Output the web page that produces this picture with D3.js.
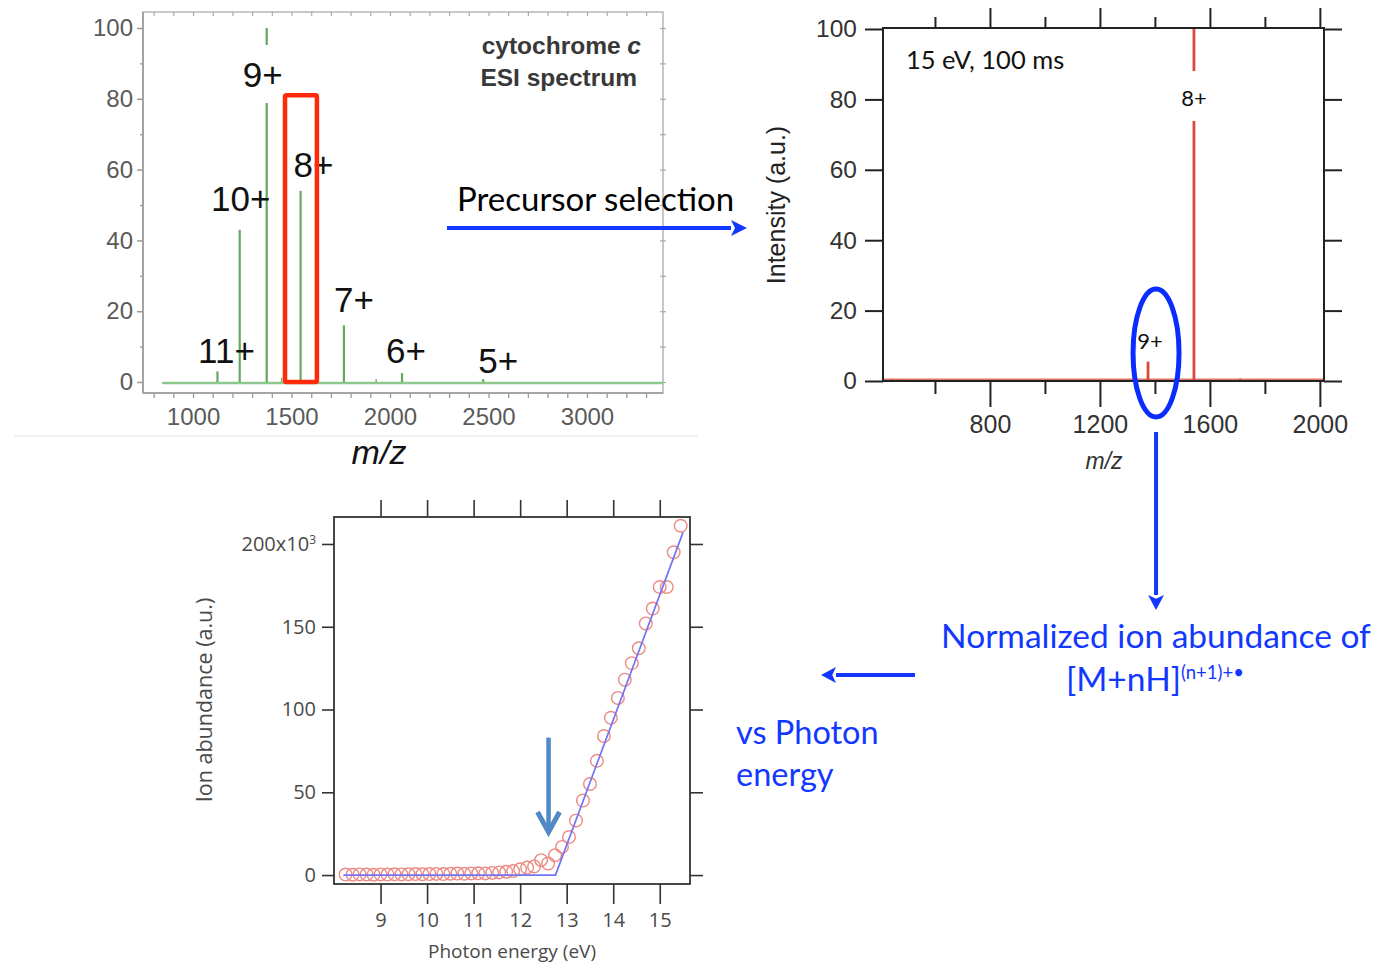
<!DOCTYPE html>
<html>
<head>
<meta charset="utf-8">
<script src="https://cdn.jsdelivr.net/npm/d3@7"></script>
<style>
  body { margin: 0; background: #fff; }
  svg { display: block; }
</style>
</head>
<body>
<svg id="fig" width="1382" height="972"></svg>
<script>
// ---- ESI survey spectrum of cytochrome c ----
const esiCharges   = ["11+", "10+", "9+", "8+", "7+", "6+", "5+"];
const esiMz        = [1124, 1237, 1374, 1546, 1766, 2061, 2473];
const esiIntensity = [3, 43, 100, 54, 16, 2.5, 0.8];
const esiMinorMz   = [1450, 1930];
const esiMinorInt  = [1.2, 0.8];
const esiXTicks    = [1000, 1500, 2000, 2500, 3000];
const esiYTicks    = [0, 20, 40, 60, 80, 100];
const isolationMz  = [1467, 1629];
const isolationTop = 81;

// ---- Tandem spectrum after 15 eV, 100 ms irradiation ----
const msmsCharges   = ["9+", "8+"];
const msmsMz        = [1375, 1542];
const msmsIntensity = [5.5, 100];
const msmsMinorMz   = [445, 470, 1218, 1710, 1770];
const msmsMinorInt  = [0.6, 0.5, 0.5, 0.8, 0.4];
const msmsXTicks    = [800, 1200, 1600, 2000];
const msmsXMinor    = [600, 1000, 1400, 1800];
const msmsYTicks    = [0, 20, 40, 60, 80, 100];

// ---- Photon energy scan of the oxidised species ----
const photonEnergy = [8.25, 8.4, 8.55, 8.7, 8.85, 9.0, 9.15, 9.3, 9.45, 9.6, 9.75, 9.9,
  10.05, 10.2, 10.35, 10.5, 10.65, 10.8, 10.95, 11.1, 11.25, 11.4,
  11.55, 11.7, 11.85, 12.0, 12.15, 12.3, 12.45, 12.6, 12.75, 12.9, 13.05, 13.2, 13.35,
  13.5, 13.65, 13.8, 13.95, 14.1, 14.25, 14.4, 14.55, 14.7, 14.85, 15.0, 15.15, 15.3, 15.45];
const ionAbundance = [0.3, 0.2, 0.4, 0.3, 0.2, 0.4, 0.3, 0.5, 0.4, 0.5, 0.6, 0.5,
  0.6, 0.7, 0.6, 0.8, 0.9, 0.8, 1.0, 1.1, 1.0, 1.3,
  1.6, 2.0, 2.4, 3.5, 4.5, 5.2, 9, 7, 12, 17, 23, 33, 45,
  55, 69, 84, 95, 107, 118, 128, 137, 152, 161, 174, 174, 195, 211];
const fitEnergy    = [8.2, 12.76, 15.5];
const fitAbundance = [0, 0, 207];
const energyTicks  = [9, 10, 11, 12, 13, 14, 15];
const abundanceTicks = [0, 50, 100, 150, 200];
const onsetEnergy  = 12.61;
const onsetArrowFrom = 83, onsetArrowTo = 26;

const svg = d3.select("#fig");
const BLUE = "#1238ff";

function styleAxis(g, font, size, color, tickColor, tickWidth) {
  g.select(".domain").remove();
  g.selectAll(".tick line").attr("stroke", tickColor).attr("stroke-width", tickWidth);
  g.selectAll(".tick text").attr("font-family", font).attr("font-size", size).attr("fill", color);
}

function arrow(g, x1, y1, x2, y2, color, width, headLen, headHalf) {
  const ang = Math.atan2(y2 - y1, x2 - x1);
  const bx = x2 - headLen * Math.cos(ang), by = y2 - headLen * Math.sin(ang);
  g.append("line").attr("x1", x1).attr("y1", y1).attr("x2", bx).attr("y2", by)
    .attr("stroke", color).attr("stroke-width", width);
  const px = -Math.sin(ang) * headHalf, py = Math.cos(ang) * headHalf;
  g.append("path")
    .attr("d", `M${x2},${y2}L${bx + px},${by + py}L${bx + 0.25 * (x2 - bx)},${by + 0.25 * (y2 - by)}L${bx - px},${by - py}Z`)
    .attr("fill", color);
}

// ================= Panel A: ESI spectrum =================
{
  const L = 143, R = 663, T = 12, B = 393;
  const x = d3.scaleLinear().domain([746, 3386]).range([L, R]);
  const y = d3.scaleLinear().domain([0, 100]).range([382, 28]);
  const g = svg.append("g");
  const axisGray = "#9a9a9a";
  const font = "'Liberation Sans', Arial, sans-serif";

  g.append("rect").attr("x", L).attr("y", T).attr("width", R - L).attr("height", B - T)
    .attr("fill", "none").attr("stroke", "#b5b5b5").attr("stroke-width", 1.5);
  g.append("line").attr("x1", L).attr("x2", L).attr("y1", T).attr("y2", B)
    .attr("stroke", axisGray).attr("stroke-width", 1.6);
  g.append("line").attr("x1", L).attr("x2", R).attr("y1", B).attr("y2", B)
    .attr("stroke", axisGray).attr("stroke-width", 1.6);

  const minorY = y.ticks(10).filter(v => !esiYTicks.includes(v));
  g.append("g").attr("transform", `translate(${L},0)`)
    .call(d3.axisLeft(y).tickValues(minorY).tickSize(3).tickFormat(""))
    .call(s => styleAxis(s, font, 24, "#555", axisGray, 1.3));
  g.append("g").attr("transform", `translate(${L},0)`)
    .call(d3.axisLeft(y).tickValues(esiYTicks).tickSize(6).tickPadding(4))
    .call(s => styleAxis(s, font, 24, "#5a5a5a", axisGray, 1.5));
  g.append("g").attr("transform", `translate(${R + 3},0)`)
    .call(d3.axisLeft(y).tickValues(y.ticks(10)).tickSize(6).tickFormat(""))
    .call(s => styleAxis(s, font, 24, "#555", "#aaa", 1.2));

  const mzMinor = x.ticks(26).filter(v => v >= 800);
  g.append("g").attr("transform", `translate(0,${B})`)
    .call(d3.axisBottom(x).tickValues(mzMinor).tickSize(5).tickPadding(10)
      .tickFormat(v => esiXTicks.includes(v) ? v : ""))
    .call(s => styleAxis(s, font, 24, "#5a5a5a", axisGray, 1.3));
  g.append("g").attr("transform", `translate(0,${T})`)
    .call(d3.axisBottom(x).tickValues(mzMinor).tickSize(4).tickFormat(""))
    .call(s => styleAxis(s, font, 24, "#555", "#aaa", 1.2));

  // baseline and peaks
  g.append("line").attr("x1", x(843)).attr("x2", R).attr("y1", y(0) + 1).attr("y2", y(0) + 1)
    .attr("stroke", "#8cc78c").attr("stroke-width", 2.6);
  g.selectAll(".minor").data(esiMinorMz).join("line")
    .attr("x1", d => x(d)).attr("x2", d => x(d))
    .attr("y1", y(0)).attr("y2", (d, i) => y(esiMinorInt[i]))
    .attr("stroke", "#7ab87a").attr("stroke-width", 1.6);
  g.selectAll(".peak").data(esiMz).join("line")
    .attr("x1", d => x(d)).attr("x2", d => x(d))
    .attr("y1", y(0)).attr("y2", (d, i) => y(esiIntensity[i]))
    .attr("stroke", "#63a863").attr("stroke-width", 2.2);

  // charge-state labels (offsets relative to peak apex)
  const labelOffset = [[9, -21], [1, -31], [-4, 0], [13, -26], [10, -26], [4, -23], [15, -19]];
  esiCharges.forEach((c, i) => {
    const cx = x(esiMz[i]) + labelOffset[i][0];
    const cy = c === "9+" ? y(87) : y(esiIntensity[i]) + labelOffset[i][1];
    if (c === "9+") {
      g.append("rect").attr("x", cx - 14).attr("y", cy - 29).attr("width", 28).attr("height", 58).attr("fill", "#fff");
    }
    g.append("text").attr("x", cx).attr("y", cy).attr("dy", "0.36em")
      .attr("text-anchor", "middle").attr("font-family", font).attr("font-size", 35)
      .attr("fill", "#111").text(c);
  });

  // isolation window
  g.append("rect")
    .attr("x", x(isolationMz[0])).attr("y", y(isolationTop))
    .attr("width", x(isolationMz[1]) - x(isolationMz[0])).attr("height", y(0) - y(isolationTop))
    .attr("fill", "none").attr("stroke", "#ff2a0a").attr("stroke-width", 4.5).attr("rx", 1.5);

  const title = g.append("text").attr("text-anchor", "end").attr("font-family", font)
    .attr("font-weight", "bold").attr("font-size", 24.5).attr("fill", "#383838");
  title.append("tspan").attr("x", 641).attr("y", 54).text("cytochrome ")
    .append("tspan").attr("font-style", "italic").text("c");
  title.append("tspan").attr("x", 637).attr("y", 86).text("ESI spectrum");

  g.append("text").attr("x", 379).attr("y", 464).attr("text-anchor", "middle")
    .attr("font-family", font).attr("font-style", "italic").attr("font-size", 34)
    .attr("fill", "#111").text("m/z");
  svg.append("line").attr("x1", 14).attr("x2", 698).attr("y1", 436).attr("y2", 436)
    .attr("stroke", "#e2e2e2").attr("stroke-width", 1);
}

// ================= Panel B: tandem spectrum =================
{
  const L = 883, R = 1324, T = 28, B = 381;
  const x = d3.scaleLinear().domain([411, 2015]).range([L, R]);
  const y = d3.scaleLinear().domain([0, 100]).range([381, 29]);
  const g = svg.append("g");
  const font = "'Liberation Sans', Arial, sans-serif";
  const ink = "#222";

  g.append("g").attr("transform", `translate(${L},0)`)
    .call(d3.axisLeft(y).tickValues(msmsYTicks).tickSize(18).tickPadding(8))
    .call(s => styleAxis(s, font, 24.5, "#333", ink, 2));
  g.append("g").attr("transform", `translate(${R},0)`)
    .call(d3.axisRight(y).tickValues(msmsYTicks).tickSize(18).tickFormat(""))
    .call(s => styleAxis(s, font, 24.5, "#333", ink, 2));
  g.append("g").attr("transform", `translate(0,${B})`)
    .call(d3.axisBottom(x).tickValues(msmsXTicks).tickSize(26).tickPadding(8).tickFormat(d3.format("d")))
    .call(s => styleAxis(s, font, 25, "#333", ink, 2));
  g.append("g").attr("transform", `translate(0,${B})`)
    .call(d3.axisBottom(x).tickValues(msmsXMinor).tickSize(13).tickFormat(""))
    .call(s => styleAxis(s, font, 25, "#333", ink, 2));
  g.append("g").attr("transform", `translate(0,${T})`)
    .call(d3.axisTop(x).tickValues(msmsXTicks).tickSize(20).tickFormat(""))
    .call(s => styleAxis(s, font, 25, "#333", ink, 2));
  g.append("g").attr("transform", `translate(0,${T})`)
    .call(d3.axisTop(x).tickValues(msmsXMinor).tickSize(11).tickFormat(""))
    .call(s => styleAxis(s, font, 25, "#333", ink, 2));

  // baseline and peaks
  g.append("line").attr("x1", L).attr("x2", R).attr("y1", y(0) - 1).attr("y2", y(0) - 1)
    .attr("stroke", "#e07467").attr("stroke-width", 3);
  g.selectAll(".minor").data(msmsMinorMz).join("line")
    .attr("x1", d => x(d)).attr("x2", d => x(d))
    .attr("y1", y(0)).attr("y2", (d, i) => y(msmsMinorInt[i]))
    .attr("stroke", "#d9574a").attr("stroke-width", 1.5);
  g.selectAll(".peak").data(msmsMz).join("line")
    .attr("x1", d => x(d)).attr("x2", d => x(d))
    .attr("y1", y(0)).attr("y2", (d, i) => y(msmsIntensity[i]))
    .attr("stroke", "#d84a3e").attr("stroke-width", 2.8);

  g.append("rect").attr("x", L).attr("y", T).attr("width", R - L).attr("height", B - T)
    .attr("fill", "none").attr("stroke", ink).attr("stroke-width", 2);

  const lfont = "Lato, 'Open Sans', sans-serif";
  // 8+ label sits in a gap of its peak
  const x8 = x(msmsMz[1]);
  g.append("rect").attr("x", x8 - 16).attr("y", 71).attr("width", 32).attr("height", 50).attr("fill", "#fff");
  g.append("text").attr("x", x8).attr("y", 98).attr("dy", "0.36em").attr("text-anchor", "middle")
    .attr("font-family", lfont).attr("font-size", 22).attr("fill", "#111").text(msmsCharges[1]);
  g.append("text").attr("x", x(msmsMz[0]) + 2).attr("y", 341).attr("dy", "0.36em").attr("text-anchor", "middle")
    .attr("font-family", lfont).attr("font-size", 22).attr("fill", "#111").text(msmsCharges[0]);

  g.append("text").attr("x", 906).attr("y", 69).attr("font-family", lfont)
    .attr("font-size", 25.5).attr("fill", "#111").text("15 eV, 100 ms");

  g.append("text").attr("transform", "translate(785,205) rotate(-90)").attr("text-anchor", "middle")
    .attr("font-family", font).attr("font-size", 25).attr("fill", "#222").text("Intensity (a.u.)");
  g.append("text").attr("x", 1104).attr("y", 469).attr("text-anchor", "middle")
    .attr("font-family", font).attr("font-style", "italic").attr("font-size", 23)
    .attr("fill", "#333").text("m/z");

  // highlighted precursor of the oxidised ion
  g.append("ellipse").attr("cx", x(msmsMz[0]) + 8).attr("cy", 353).attr("rx", 23).attr("ry", 64)
    .attr("fill", "none").attr("stroke", "#0a2cff").attr("stroke-width", 5);
  arrow(g, x(msmsMz[0]) + 8, 432, x(msmsMz[0]) + 8, 610, BLUE, 4, 15, 8);
}

// ================= Panel C: photon energy scan =================
{
  const L = 334, R = 690, T = 517, B = 884;
  const x = d3.scaleLinear().domain([8.0, 15.65]).range([L, R]);
  const y = d3.scaleLinear().domain([-5.4, 216.3]).range([B, T]);
  const g = svg.append("g");
  const font = "'Open Sans', 'Noto Sans', sans-serif";
  const ink = "#333";

  g.append("g").attr("transform", `translate(${L},0)`)
    .call(d3.axisLeft(y).tickValues(abundanceTicks).tickSize(12).tickPadding(6))
    .call(s => styleAxis(s, font, 20, "#4a4a4a", ink, 1.6));
  g.selectAll(".tick text").filter(d => d === 200).text("200x10")
    .append("tspan").attr("dy", "-0.55em").attr("font-size", 12).text("3");
  g.append("g").attr("transform", `translate(${R},0)`)
    .call(d3.axisRight(y).tickValues(abundanceTicks).tickSize(13).tickFormat(""))
    .call(s => styleAxis(s, font, 20, "#4a4a4a", ink, 1.6));
  g.append("g").attr("transform", `translate(0,${B})`)
    .call(d3.axisBottom(x).tickValues(energyTicks).tickSize(20).tickPadding(9))
    .call(s => styleAxis(s, font, 20, "#4a4a4a", ink, 1.6));
  g.append("g").attr("transform", `translate(0,${T})`)
    .call(d3.axisTop(x).tickValues(energyTicks).tickSize(17).tickFormat(""))
    .call(s => styleAxis(s, font, 20, "#4a4a4a", ink, 1.6));

  g.append("rect").attr("x", L).attr("y", T).attr("width", R - L).attr("height", B - T)
    .attr("fill", "none").attr("stroke", ink).attr("stroke-width", 1.8);

  g.selectAll("circle").data(photonEnergy).join("circle")
    .attr("cx", d => x(d)).attr("cy", (d, i) => y(ionAbundance[i])).attr("r", 6.3)
    .attr("fill", "none").attr("stroke", "#ec8b84").attr("stroke-width", 1.4);

  const fit = d3.line().x(d => x(d)).y((d, i) => y(fitAbundance[i]));
  g.append("path").attr("d", fit(fitEnergy)).attr("fill", "none")
    .attr("stroke", "#7474f2").attr("stroke-width", 1.7);

  // onset marker
  const ax = x(onsetEnergy), ay1 = y(onsetArrowFrom), ay2 = y(onsetArrowTo);
  const steel = "#5189c4";
  g.append("line").attr("x1", ax).attr("x2", ax).attr("y1", ay1).attr("y2", ay2 - 3)
    .attr("stroke", steel).attr("stroke-width", 4.5);
  g.append("path").attr("d", `M${ax - 11},${ay2 - 20}L${ax},${ay2}L${ax + 11},${ay2 - 20}`)
    .attr("fill", "none").attr("stroke", steel).attr("stroke-width", 5).attr("stroke-linejoin", "miter");

  g.append("text").attr("x", 512).attr("y", 958).attr("text-anchor", "middle")
    .attr("font-family", font).attr("font-size", 19).attr("fill", "#4a4a4a").text("Photon energy (eV)");
  g.append("text").attr("transform", "translate(212,700) rotate(-90)").attr("text-anchor", "middle")
    .attr("font-family", font).attr("font-size", 21.5).attr("fill", "#4a4a4a").text("Ion abundance (a.u.)");
}

// ================= Annotations =================
{
  const g = svg.append("g");
  const font = "Lato, 'Open Sans', sans-serif";
  g.append("text").attr("x", 457).attr("y", 211).attr("font-family", font)
    .attr("font-size", 33).attr("fill", "#000").text("Precursor selection");
  arrow(g, 447, 228, 747, 228, BLUE, 4, 16, 8);
  arrow(g, 915, 675, 821, 675, BLUE, 4, 15, 8);

  g.append("text").attr("x", 1156).attr("y", 648).attr("text-anchor", "middle")
    .attr("font-family", font).attr("font-size", 33.5).attr("fill", BLUE).text("Normalized ion abundance of");
  const t2 = g.append("text").attr("x", 1066).attr("y", 691).attr("font-family", font)
    .attr("font-size", 33.5).attr("fill", BLUE).text("[M+nH]");
  t2.append("tspan").attr("dy", -12).attr("font-size", 18.5).text("(n+1)+\u2022");

  g.append("text").attr("x", 736).attr("y", 744).attr("font-family", font)
    .attr("font-size", 32.5).attr("fill", BLUE).text("vs Photon");
  g.append("text").attr("x", 736).attr("y", 786).attr("font-family", font)
    .attr("font-size", 32.5).attr("fill", BLUE).text("energy");
}
</script>
</body>
</html>
